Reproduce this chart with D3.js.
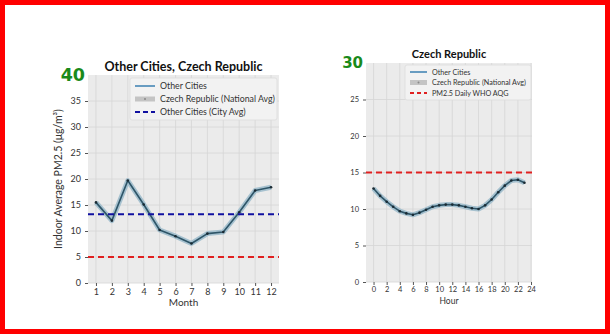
<!DOCTYPE html>
<html><head><meta charset="utf-8">
<script src="https://cdn.jsdelivr.net/npm/d3@7"></script>
<style>
html,body{margin:0;padding:0;background:#fff;}
svg{display:block;font-family:Lato,"DejaVu Sans",sans-serif;}
</style></head>
<body><svg id="c" width="610" height="334"></svg>
<script>
// ---- data ----
const months = [1,2,3,4,5,6,7,8,9,10,11,12];
const monthlyValues = [15.5,12.0,19.7,15.1,10.2,9.0,7.6,9.5,9.8,13.6,17.8,18.4];
const cityAvg = 13.2;
const whoAnnual = 5;
const hours = [0,1,2,3,4,5,6,7,8,9,10,11,12,13,14,15,16,17,18,19,20,21,22,23];
const hourlyValues = [12.8,11.8,11.0,10.3,9.7,9.4,9.2,9.5,9.9,10.3,10.5,10.6,10.6,10.5,10.3,10.1,10.0,10.5,11.3,12.3,13.2,13.9,14.0,13.6];
const whoDaily = 15;
const leftYTicks = [0,5,10,15,20,25,30,35];
const leftTopLabel = "40";
const rightYTicks = [0,5,10,15,20,25];
const rightTopLabel = "30";
const hourTicks = [0,2,4,6,8,10,12,14,16,18,20,22,24];
const leftLegend = ["Other Cities","Czech Republic (National Avg)","Other Cities (City Avg)"];
const rightLegend = ["Other Cities","Czech Republic (National Avg)","PM2.5 Daily WHO AQG"];

const svg = d3.select("#c");
// frame
svg.append("rect").attr("x",2.5).attr("y",2.5).attr("width",605).attr("height",329)
  .attr("fill","#fff").attr("stroke","#ff0000").attr("stroke-width",5);

function panel(o){
  const g = svg.append("g");
  const x = d3.scaleLinear().domain(o.xDomain).range([o.x0,o.x1]);
  const y = d3.scaleLinear().domain(o.yDomain).range([o.y1,o.y0]);
  g.append("rect").attr("x",o.x0).attr("y",o.y0).attr("width",o.x1-o.x0).attr("height",o.y1-o.y0).attr("fill","#ebebeb");
  // grid
  g.append("g").selectAll("line").data(o.xTicks.filter(t=>t>=o.xDomain[0]&&t<=o.xDomain[1])).join("line")
    .attr("x1",d=>x(d)).attr("x2",d=>x(d)).attr("y1",o.y0).attr("y2",o.y1)
    .attr("stroke","#d6d6d6").attr("stroke-width",0.8);
  g.append("g").selectAll("line").data(o.yTicks).join("line")
    .attr("y1",d=>y(d)).attr("y2",d=>y(d)).attr("x1",o.x0).attr("x2",o.x1)
    .attr("stroke","#d6d6d6").attr("stroke-width",0.8);
  // axes
  const ax = g.append("g").attr("transform",`translate(0,${o.y1})`)
    .call(d3.axisBottom(x).tickValues(o.xTicks).tickSize(3).tickPadding(o.xpad).tickFormat(d3.format("d")));
  ax.select(".domain").remove();
  ax.selectAll("line").attr("stroke","#555");
  ax.selectAll("text").attr("fill","#333").style("font-size",o.fs+"px").style("font-family","Lato,sans-serif");
  const ay = g.append("g").attr("transform",`translate(${o.x0},0)`)
    .call(d3.axisLeft(y).tickValues(o.yTicks).tickSize(3).tickPadding(4).tickFormat(d3.format("d")));
  ay.select(".domain").remove();
  ay.selectAll("line").attr("stroke","#555");
  ay.selectAll("text").attr("fill","#333").style("font-size",o.fs+"px").style("font-family","Lato,sans-serif");
  // green top label
  g.append("text").attr("x",o.x0-3).attr("y",y(o.yDomain[1])).attr("dy","0.36em")
    .attr("text-anchor","end").attr("fill","#1a8a1a").attr("font-weight","bold")
    .style("font-size",o.gfs+"px").style("font-family","'DejaVu Sans',sans-serif").text(o.topLabel);
  // lines
  const line = d3.line().x(d=>x(d[0])).y(d=>y(d[1]));
  const pts = o.xs.map((v,i)=>[v,o.ys[i]]);
  g.append("path").attr("d",line(pts)).attr("fill","none").attr("stroke","#9fbdcc").attr("stroke-width",5).attr("stroke-linejoin","round").attr("opacity",0.9);
  g.append("path").attr("d",line(pts)).attr("fill","none").attr("stroke","#2e5568").attr("stroke-width",1.6).attr("stroke-linejoin","round");
  g.append("g").selectAll("circle").data(pts).join("circle")
    .attr("cx",d=>x(d[0])).attr("cy",d=>y(d[1])).attr("r",1.3).attr("fill","#1a2a33");
  // hlines
  o.hlines.forEach(h=>{
    g.append("line").attr("x1",o.x0).attr("x2",o.x1).attr("y1",y(h.v)).attr("y2",y(h.v))
      .attr("stroke",h.c).attr("stroke-width",2).attr("stroke-dasharray",o.dash);
  });
  // title
  g.append("text").attr("x",(o.x0+o.x1)/2).attr("y",o.titleY).attr("text-anchor","middle")
    .attr("font-weight","bold").attr("fill","#111").style("font-size",o.tfs+"px").text(o.title);
  g.append("text").attr("x",(o.x0+o.x1)/2).attr("y",o.xlabY).attr("text-anchor","middle")
    .attr("fill","#333").style("font-size",o.lfs+"px").text(o.xlab);
  if(o.ylab){
    g.append("text").attr("transform",`translate(${o.ylabX},${(o.y0+o.y1)/2}) rotate(-90)`)
      .attr("text-anchor","middle").attr("fill","#333").style("font-size",o.ylfs+"px").text(o.ylab);
  }
  // legend
  const L = o.legend;
  g.append("rect").attr("x",L.x).attr("y",L.y).attr("width",L.w).attr("height",L.h).attr("rx",2)
    .attr("fill","#f2f2f2").attr("stroke","#dcdcdc").attr("stroke-width",0.8);
  L.items.forEach((t,i)=>{
    const cy = L.y + L.pad + i*L.dy;
    const hx0 = L.x+5, hx1 = L.x+5+L.hw;
    if(i===0){
      g.append("line").attr("x1",hx0).attr("x2",hx1).attr("y1",cy).attr("y2",cy).attr("stroke","#3a7fb0").attr("stroke-width",1.5);
    } else if(i===1){
      g.append("line").attr("x1",hx0).attr("x2",hx1).attr("y1",cy).attr("y2",cy).attr("stroke","#c4c4c4").attr("stroke-width",5);
      g.append("circle").attr("cx",(hx0+hx1)/2).attr("cy",cy).attr("r",1).attr("fill","#888");
    } else {
      g.append("line").attr("x1",hx0).attr("x2",hx1).attr("y1",cy).attr("y2",cy).attr("stroke",L.c3).attr("stroke-width",2).attr("stroke-dasharray",o.legDash);
    }
    g.append("text").attr("x",hx1+5).attr("y",cy).attr("dy","0.35em").attr("fill","#333")
      .style("font-size",L.fs+"px").text(t);
  });
}

panel({
  x0:88,x1:279,y0:75,y1:283,xDomain:[0.5,12.5],yDomain:[0,40],
  xTicks:months,yTicks:leftYTicks,topLabel:leftTopLabel,xs:months,ys:monthlyValues,
  hlines:[{v:cityAvg,c:"#1010a0"},{v:whoAnnual,c:"#e02020"}],dash:"6,4",legDash:"5,3",
  fs:9,gfs:17.5,tfs:12.5,lfs:10,ylfs:10.5,xpad:3,title:"Other Cities, Czech Republic",titleY:71,
  xlab:"Month",xlabY:306,ylab:"Indoor Average PM2.5 (\u03bcg/m\u00b3)",ylabX:62,
  legend:{x:130,y:78,w:147,h:42,pad:8,dy:13,hw:20,fs:8.8,items:leftLegend,c3:"#1010a0"}
});
panel({
  x0:366,x1:532,y0:63,y1:282,xDomain:[-1.15,24.15],yDomain:[0,30],
  xTicks:hourTicks,yTicks:rightYTicks,topLabel:rightTopLabel,xs:hours,ys:hourlyValues,
  hlines:[{v:whoDaily,c:"#e02020"}],dash:"6,4",legDash:"4,3",
  fs:7.5,gfs:15,tfs:11,lfs:8.5,ylfs:8.5,xpad:2,title:"Czech Republic",titleY:58,
  xlab:"Hour",xlabY:304,ylab:null,
  legend:{x:405,y:65,w:126,h:35,pad:7,dy:10.5,hw:17,fs:7.2,items:rightLegend,c3:"#e02020"}
});
</script></body></html>
